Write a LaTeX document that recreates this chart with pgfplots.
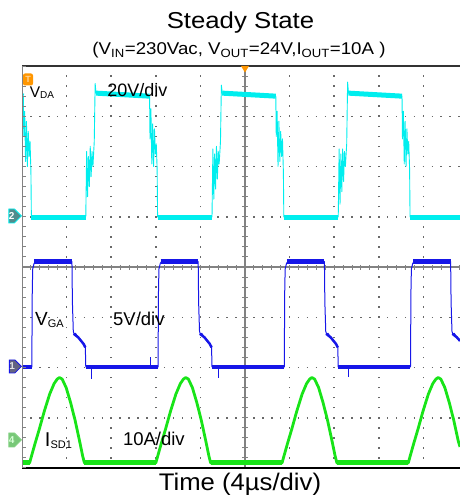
\documentclass[border=0pt]{standalone}
\usepackage{fontspec}
\setmainfont{Liberation Sans}
\usepackage{pgfplots}
\pgfplotsset{compat=1.18}
\usetikzlibrary{shapes.symbols}

\definecolor{chA}{RGB}{0,238,238}
\definecolor{chB}{RGB}{22,22,232}
\definecolor{chC}{RGB}{24,228,24}
\definecolor{gridgray}{RGB}{105,105,105}
\definecolor{axisgray}{RGB}{130,130,130}
\definecolor{trig}{RGB}{255,150,0}

\pgfplotsset{
  thinA/.style={chA, line width=0.9pt, line join=round},
  flatA/.style={chA, line width=5pt},
  thinB/.style={chB, line width=1.0pt, line join=round},
  flatB/.style={chB, line width=4.5pt},
  pulseC/.style={chC, line width=2.8pt, line join=round},
  flatC/.style={chC, line width=5pt},
}

\begin{document}
\begin{tikzpicture}[x=1pt,y=1pt]
\useasboundingbox (0,0) rectangle (460,498);

% titles
\node[anchor=base, font=\fontsize{23}{23}\selectfont] at (240.5,469) {\scalebox{1.12}[1]{Steady State}};
\node[anchor=base, font=\fontsize{17}{17}\selectfont] at (239,443)
  {\scalebox{1.1}[1]{(V\textsubscript{IN}=230Vac, V\textsubscript{OUT}=24V,I\textsubscript{OUT}=10A )}};
\node[anchor=base, font=\fontsize{24}{24}\selectfont] at (240,8) {\scalebox{1.07}[1]{Time (4µs/div)}};

\begin{axis}[
  at={(22pt,30pt)}, anchor=south west, scale only axis,
  width=438pt, height=402pt,
  xmin=-5, xmax=4.82, ymin=-4, ymax=4,
  axis line style={draw=none},
  xtick={-4,...,4}, ytick={-3,...,3},
  xticklabels={}, yticklabels={}, major tick length=0pt,
  grid=major,
  major x grid style={gridgray, line width=1.5pt, dash pattern=on 1.5pt off 8.55pt, dash phase=0.75pt},
  major y grid style={gridgray, line width=1.5pt, dash pattern=on 1.5pt off 7.42pt, dash phase=0.75pt},
]
% centre lines with 1/5-division ticks
\draw[axisgray, line width=1.6pt] (axis cs:-5,0) -- (axis cs:4.82,0);
\draw[axisgray, line width=5pt, dash pattern=on 1pt off 7.92pt, dash phase=0.5pt] (axis cs:-5,0) -- (axis cs:4.82,0);
\draw[axisgray, line width=2.4pt] (axis cs:0,-4) -- (axis cs:0,4);
\draw[axisgray, line width=6pt, dash pattern=on 1pt off 9.05pt, dash phase=0.5pt] (axis cs:0,-4) -- (axis cs:0,4);

% ---- channel 2: V_DA (20 V/div) ----
\addplot[thinA] coordinates {
 (-5.00,3.41) (-4.97,3.40) (-4.96,2.60) (-4.94,3.10) (-4.92,2.10) (-4.90,2.90) (-4.88,2.00)
 (-4.86,2.70) (-4.84,2.20) (-4.82,2.50) (-4.80,1.90) (-4.79,0.995)
 (-3.57,0.995) (-3.55,2.30) (-3.53,1.40) (-3.51,2.20) (-3.49,1.60) (-3.47,2.40) (-3.45,1.80)
 (-3.43,2.30) (-3.41,2.00) (-3.38,2.50) (-3.36,3.65) (-3.34,3.46)
 (-2.14,3.40) (-2.13,2.55) (-2.11,3.15) (-2.09,2.05) (-2.07,2.85) (-2.05,2.00) (-2.03,2.75)
 (-2.01,2.25) (-1.99,2.45) (-1.97,1.95) (-1.96,0.995)
 (-0.74,0.995) (-0.72,2.35) (-0.70,1.35) (-0.68,2.25) (-0.66,1.55) (-0.64,2.40) (-0.62,1.75)
 (-0.60,2.30) (-0.58,2.05) (-0.55,2.50) (-0.53,3.62) (-0.51,3.46)
 (0.69,3.40) (0.70,2.60) (0.72,3.10) (0.74,2.00) (0.76,2.90) (0.78,2.10) (0.80,2.70)
 (0.82,2.20) (0.84,2.55) (0.86,1.90) (0.87,0.995)
 (2.09,0.995) (2.11,2.35) (2.13,1.25) (2.15,2.25) (2.17,1.50) (2.19,2.35) (2.21,1.70)
 (2.23,2.30) (2.25,2.00) (2.28,2.45) (2.30,3.68) (2.32,3.46)
 (3.52,3.40) (3.53,2.55) (3.55,3.10) (3.57,2.05) (3.59,2.90) (3.61,2.00) (3.63,2.75)
 (3.65,2.25) (3.67,2.50) (3.69,1.95) (3.70,0.995) (4.82,0.995)
};
\addplot[flatA] coordinates {(-5.00,3.41) (-4.97,3.40)};
\addplot[flatA] coordinates {(-4.79,0.995) (-3.57,0.995)};
\addplot[flatA] coordinates {(-3.34,3.46) (-2.14,3.40)};
\addplot[flatA] coordinates {(-1.96,0.995) (-0.74,0.995)};
\addplot[flatA] coordinates {(-0.51,3.46) (0.69,3.40)};
\addplot[flatA] coordinates {(0.87,0.995) (2.09,0.995)};
\addplot[flatA] coordinates {(2.32,3.46) (3.52,3.40)};
\addplot[flatA] coordinates {(3.70,0.995) (4.82,0.995)};

% ---- channel 1: V_GA (5 V/div) ----
\addplot[thinB] coordinates {
 (-5.00,-1.99) (-4.78,-1.99) (-4.77,-0.50) (-4.76,-0.04) (-4.73,0.07) (-4.70,0.11)
 (-3.88,0.11) (-3.87,-0.70) (-3.85,-1.28) (-3.83,-1.34) (-3.80,-1.32) (-3.74,-1.40)
 (-3.68,-1.47) (-3.62,-1.53) (-3.58,-1.60) (-3.57,-1.99)
 (-1.95,-1.99) (-1.94,-0.50) (-1.93,-0.04) (-1.90,0.07) (-1.87,0.11)
 (-1.05,0.11) (-1.04,-0.70) (-1.02,-1.28) (-1.00,-1.34) (-0.97,-1.32) (-0.91,-1.40)
 (-0.85,-1.47) (-0.79,-1.53) (-0.75,-1.60) (-0.74,-1.99)
 (0.88,-1.99) (0.89,-0.50) (0.90,-0.04) (0.93,0.07) (0.96,0.11)
 (1.78,0.11) (1.79,-0.70) (1.81,-1.28) (1.83,-1.34) (1.86,-1.32) (1.92,-1.40)
 (1.98,-1.47) (2.04,-1.53) (2.08,-1.60) (2.09,-1.99)
 (3.71,-1.99) (3.72,-0.50) (3.73,-0.04) (3.76,0.07) (3.79,0.11)
 (4.61,0.11) (4.62,-0.70) (4.64,-1.28) (4.66,-1.34) (4.69,-1.32) (4.75,-1.40) (4.82,-1.47)
};
\addplot[flatB] coordinates {(-5.00,-1.99) (-4.78,-1.99)};
\addplot[flatB] coordinates {(-4.72,0.11) (-3.88,0.11)};
\addplot[flatB] coordinates {(-3.57,-1.99) (-1.95,-1.99)};
\addplot[flatB] coordinates {(-1.89,0.11) (-1.05,0.11)};
\addplot[flatB] coordinates {(-0.74,-1.99) (0.88,-1.99)};
\addplot[flatB] coordinates {(0.94,0.11) (1.78,0.11)};
\addplot[flatB] coordinates {(2.09,-1.99) (3.71,-1.99)};
\addplot[flatB] coordinates {(3.77,0.11) (4.61,0.11)};
\addplot[chB, line width=2.5pt] coordinates {(-3.84,-1.33) (-3.74,-1.40) (-3.62,-1.53) (-3.58,-1.60)};
\addplot[chB, line width=2.5pt] coordinates {(-1.01,-1.33) (-0.91,-1.40) (-0.79,-1.53) (-0.75,-1.60)};
\addplot[chB, line width=2.5pt] coordinates {(1.82,-1.33) (1.92,-1.40) (2.04,-1.53) (2.08,-1.60)};
\addplot[chB, line width=2.5pt] coordinates {(4.65,-1.33) (4.75,-1.40) (4.82,-1.47)};
% a few noise spikes on the low level
\addplot[chB, line width=0.8pt] coordinates {(-3.44,-1.99) (-3.44,-2.22)};
\addplot[chB, line width=0.8pt] coordinates {(-2.13,-1.99) (-2.13,-1.80)};
\addplot[chB, line width=0.8pt] coordinates {(-0.60,-1.99) (-0.60,-2.20)};
\addplot[chB, line width=0.8pt] coordinates {(2.32,-1.99) (2.32,-2.18)};

% ---- channel 4: I_SD1 (10 A/div) ----
\addplot[pulseC] coordinates {
 (-5.00,-3.90) (-4.83,-3.90) (-4.78,-3.74) (-4.71,-3.52) (-4.61,-3.22) (-4.50,-2.87) (-4.38,-2.53)
 (-4.28,-2.32) (-4.21,-2.23) (-4.16,-2.20) (-4.10,-2.23) (-4.01,-2.40) (-3.91,-2.70) (-3.81,-3.05)
 (-3.71,-3.46) (-3.64,-3.76) (-3.60,-3.90)
 (-2.00,-3.90) (-1.95,-3.74) (-1.88,-3.52) (-1.78,-3.22) (-1.67,-2.87) (-1.55,-2.53) (-1.45,-2.32)
 (-1.38,-2.23) (-1.33,-2.20) (-1.27,-2.23) (-1.18,-2.40) (-1.08,-2.70) (-0.98,-3.05) (-0.88,-3.46)
 (-0.81,-3.76) (-0.77,-3.90)
 (0.83,-3.90) (0.88,-3.74) (0.95,-3.52) (1.05,-3.22) (1.16,-2.87) (1.28,-2.53) (1.38,-2.32)
 (1.45,-2.23) (1.50,-2.20) (1.56,-2.23) (1.65,-2.40) (1.75,-2.70) (1.85,-3.05) (1.95,-3.46)
 (2.02,-3.76) (2.06,-3.90)
 (3.66,-3.90) (3.71,-3.74) (3.78,-3.52) (3.88,-3.22) (3.99,-2.87) (4.11,-2.53) (4.21,-2.32)
 (4.28,-2.23) (4.33,-2.20) (4.39,-2.23) (4.48,-2.40) (4.58,-2.70) (4.68,-3.05) (4.78,-3.46) (4.82,-3.58)
};
\addplot[flatC] coordinates {(-5.00,-3.90) (-4.83,-3.90)};
\addplot[flatC] coordinates {(-3.60,-3.90) (-2.00,-3.90)};
\addplot[flatC] coordinates {(-0.77,-3.90) (0.83,-3.90)};
\addplot[flatC] coordinates {(2.06,-3.90) (3.66,-3.90)};

% channel labels
\node[anchor=base west, inner sep=0pt, font=\fontsize{15.5}{15.5}\selectfont] at (axis cs:-4.83,3.38)
  {V\raisebox{-1.5pt}{\fontsize{10}{10}\selectfont DA}};
\node[anchor=base west, inner sep=0pt, font=\fontsize{18}{18}\selectfont] at (axis cs:-3.09,3.40) {20V/div};
\node[anchor=base west, inner sep=0pt, font=\fontsize{19}{19}\selectfont] at (axis cs:-4.71,-1.17)
  {V\raisebox{-2pt}{\fontsize{11}{11}\selectfont GA}};
\node[anchor=base west, inner sep=0pt, font=\fontsize{18.5}{18.5}\selectfont] at (axis cs:-2.96,-1.17) {5V/div};
\node[anchor=base west, inner sep=0pt, font=\fontsize{20}{20}\selectfont] at (axis cs:-4.49,-3.58)
  {I\raisebox{-2pt}{\fontsize{11}{11}\selectfont SD1}};
\node[anchor=base west, inner sep=0pt, font=\fontsize{18.5}{18.5}\selectfont] at (axis cs:-2.74,-3.56) {10A/div};
\end{axis}

% frame
\draw[black!80, line width=1.6pt] (22,432) -- (460,432);
\draw[black, line width=1.8pt] (22,30) -- (460,30);
\draw[axisgray, line width=1.8pt] (22.5,30) -- (22.5,432);
\draw[axisgray, line width=3pt, dash pattern=on 1pt off 9.05pt, dash phase=0.5pt] (24,30) -- (24,432);

% trigger markers
\fill[trig] (241,432) -- (249,432) -- (245,425.5) -- cycle;
\node[fill=trig, rounded corners=2pt, minimum width=10pt, minimum height=12pt, inner sep=0pt,
      text=trig!40, font=\bfseries\fontsize{9}{9}\selectfont] at (28,418.5) {T};

% channel ground markers
\node[signal, signal to=east, draw=chA, fill={rgb,255:red,80;green,140;blue,140}, line width=0.8pt,
      minimum width=12pt, minimum height=14pt, inner sep=0pt, anchor=east,
      text=white, font=\bfseries\fontsize{10}{10}\selectfont] at (22,282) {2};
\node[signal, signal to=east, draw=chB, fill={rgb,255:red,100;green,100;blue,130}, line width=0.8pt,
      minimum width=12pt, minimum height=13pt, inner sep=0pt, anchor=east,
      text=white!80!gray, font=\bfseries\fontsize{10}{10}\selectfont] at (22,131.5) {1};
\node[signal, signal to=east, draw={rgb,255:red,130;green,210;blue,130}, fill={rgb,255:red,120;green,200;blue,120}, line width=0.8pt,
      minimum width=12pt, minimum height=14pt, inner sep=0pt, anchor=east,
      text=white!85!green, font=\bfseries\fontsize{10}{10}\selectfont] at (22,58) {4};
\end{tikzpicture}
\end{document}
